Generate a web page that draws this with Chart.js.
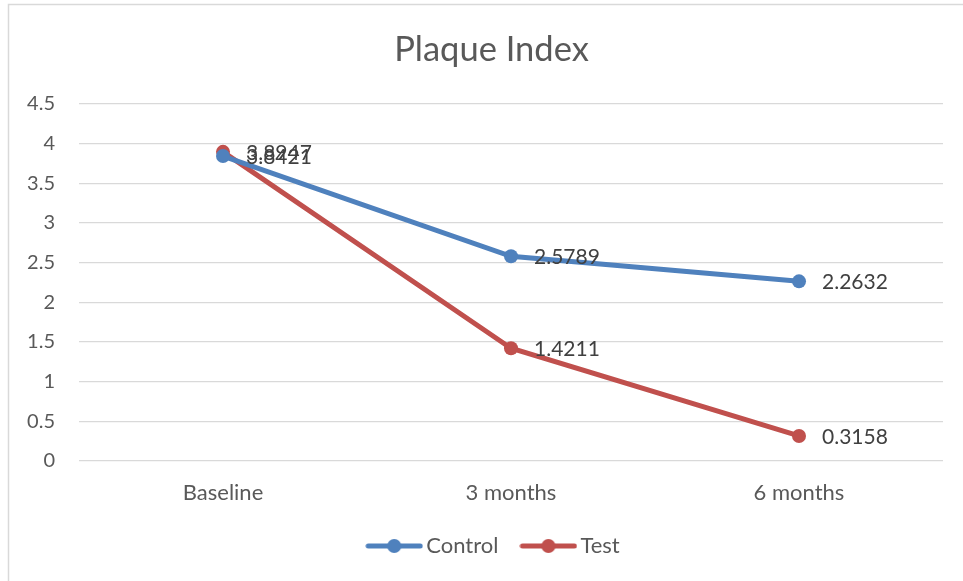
<!DOCTYPE html>
<html>
<head>
<meta charset="utf-8">
<script src="https://cdn.jsdelivr.net/npm/chart.js@4/dist/chart.umd.min.js"></script>
<style>
html,body{margin:0;padding:0;background:#fff;}
#wrap{width:963px;height:581px;position:relative;}
</style>
</head>
<body>
<div id="wrap"><canvas id="c" width="963" height="581"></canvas></div>
<script>
const categories = ['Baseline', '3 months', '6 months'];
const controlValues = [3.8421, 2.5789, 2.2632];
const testValues = [3.8947, 1.4211, 0.3158];
const seriesNames = ['Control', 'Test'];
const chartTitle = 'Plaque Index';

const FONT = 'Lato, "Open Sans", sans-serif';
const BLUE = '#4F81BD';
const RED = '#C0504D';

function legendMarker(color) {
  const cv = document.createElement('canvas');
  cv.width = 58; cv.height = 16;
  const g = cv.getContext('2d');
  g.strokeStyle = color; g.lineWidth = 5; g.lineCap = 'round';
  g.beginPath(); g.moveTo(3, 8); g.lineTo(55, 8); g.stroke();
  g.fillStyle = color;
  g.beginPath(); g.arc(29, 8, 7, 0, Math.PI * 2); g.fill();
  return cv;
}
const markers = [legendMarker(BLUE), legendMarker(RED)];

const frame = {
  id: 'frame',
  afterLayout(chart) {
    // centre title and legend like the original (shifted right of the canvas centre)
    if (chart.legend) { chart.legend.left += 21; chart.legend.right += 21; }
    if (chart.titleBlock) { chart.titleBlock.left += 16; chart.titleBlock.right += 16; }
  },
  beforeDraw(chart) {
    const ctx = chart.ctx;
    ctx.save();
    ctx.fillStyle = '#fff';
    ctx.fillRect(0, 0, chart.width, chart.height);
    ctx.strokeStyle = '#d9d9d9';
    ctx.lineWidth = 1.5;
    ctx.beginPath();
    ctx.moveTo(8.5, chart.height);
    ctx.lineTo(8.5, 4.5);
    ctx.lineTo(chart.width, 4.5);
    ctx.stroke();
    ctx.restore();
  }
};

const dataLabels = {
  id: 'dataLabels',
  afterDatasetsDraw(chart) {
    const ctx = chart.ctx;
    ctx.save();
    ctx.font = '21px ' + FONT;
    ctx.fillStyle = '#404040';
    ctx.textAlign = 'left';
    ctx.textBaseline = 'middle';
    chart.data.datasets.forEach((ds, i) => {
      const meta = chart.getDatasetMeta(i);
      meta.data.forEach((el, j) => {
        ctx.fillText(String(ds.data[j]), el.x + 23, el.y + 1);
      });
    });
    ctx.restore();
  }
};

new Chart(document.getElementById('c'), {
  type: 'line',
  data: {
    labels: categories,
    datasets: [
      { label: seriesNames[0], data: controlValues, borderColor: BLUE, backgroundColor: BLUE,
        borderWidth: 5, pointRadius: 7, pointHoverRadius: 7, pointBackgroundColor: BLUE, pointBorderWidth: 0, tension: 0 },
      { label: seriesNames[1], data: testValues, borderColor: RED, backgroundColor: RED,
        borderWidth: 5, pointRadius: 7, pointHoverRadius: 7, pointBackgroundColor: RED, pointBorderWidth: 0, tension: 0 }
    ]
  },
  options: {
    responsive: false,
    animation: false,
    events: [],
    layout: { padding: { left: 8, right: 20, top: 0, bottom: 14 } },
    plugins: {
      title: {
        display: true, text: chartTitle, color: '#595959',
        font: { family: FONT, size: 34.5, weight: 'normal' },
        padding: { top: 29.4, bottom: 33 }
      },
      legend: {
        position: 'bottom',
        labels: {
          color: '#595959',
          font: { family: FONT, size: 22 },
          usePointStyle: true,
          pointStyleWidth: 42,
          padding: 29,
          generateLabels(chart) {
            return chart.data.datasets.map((ds, i) => ({
              text: ds.label, fillStyle: ds.borderColor, strokeStyle: ds.borderColor,
              pointStyle: markers[i], lineWidth: 0, hidden: false, datasetIndex: i, fontColor: '#595959'
            }));
          }
        }
      },
      tooltip: { enabled: false }
    },
    scales: {
      x: {
        offset: true,
        grid: { display: false, drawTicks: false },
        border: { display: false },
        ticks: { color: '#595959', font: { family: FONT, size: 22 }, padding: 18.8 },
        afterFit(s) { s.height = 45; }
      },
      y: {
        min: 0, max: 4.5,
        ticks: { stepSize: 0.5, color: '#595959', font: { family: FONT, size: 20 }, padding: 24,
                 callback: v => String(v) },
        grid: { color: '#d9d9d9', lineWidth: 1.3, drawTicks: false },
        border: { display: false },
        afterFit(s) { s.width = 71; }
      }
    }
  },
  plugins: [frame, dataLabels]
});
</script>
</body>
</html>
